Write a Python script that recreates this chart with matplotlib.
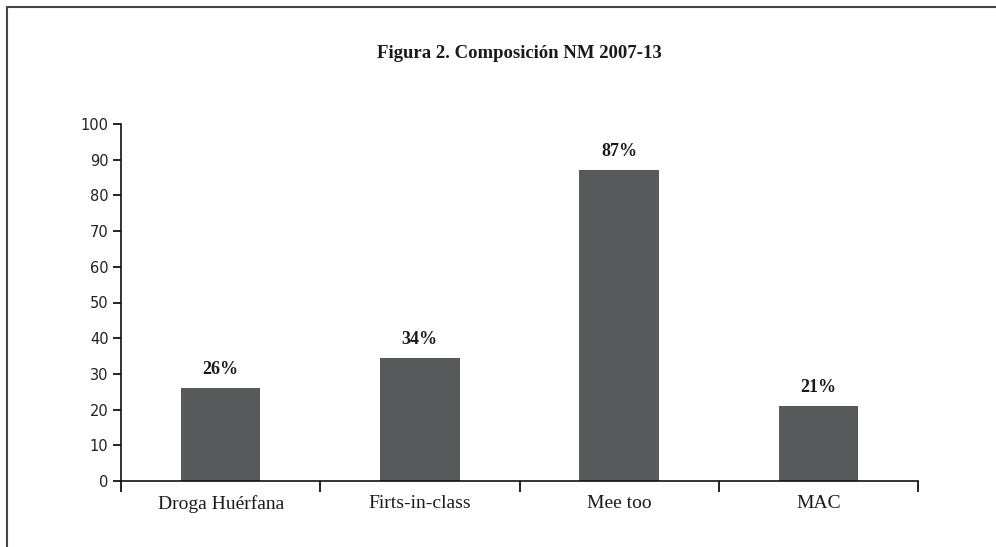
import matplotlib
matplotlib.use("Agg")
import matplotlib.pyplot as plt
from matplotlib.patches import Rectangle

categories = ["Droga Huérfana", "Firts-in-class", "Mee too", "MAC"]
values = [26, 34.5, 87, 21]
value_labels = ["26%", "34%", "87%", "21%"]
yticks = [0, 10, 20, 30, 40, 50, 60, 70, 80, 90, 100]
title = "Figura 2. Composición NM 2007-13"

serif = ["Liberation Serif", "DejaVu Serif"]

fig = plt.figure(figsize=(9.96, 5.47), dpi=100)
W, H = 996, 547
ax = fig.add_axes([121 / W, 1 - 481 / H, (918 - 121) / W, (481 - 124) / H])

xs = [i + 0.5 for i in range(len(categories))]
ax.bar(xs, values, width=0.4, color="#58595b", zorder=2)
for x, v, lab in zip(xs, values, value_labels):
    ax.annotate(lab, (x, v), xytext=(0, 10), textcoords="offset pixels",
                ha="center", va="bottom", fontsize=13, fontweight="bold",
                family=serif, color="#1a1a1a")

ax.set_xlim(0, len(categories))
ax.set_ylim(0, 100)
ax.set_yticks(yticks)
ax.set_yticklabels([str(t) for t in yticks], fontsize=10.5, family="DejaVu Sans", color="#222222")
ax.set_xticks(range(len(categories) + 1))
ax.set_xticklabels([])
ax.set_xticks(xs, minor=True)
ax.set_xticklabels(categories, minor=True, fontsize=14, family=serif, color="#1a1a1a")
ax.tick_params(axis="x", which="major", length=8, width=1.2, direction="out")
ax.tick_params(axis="x", which="minor", length=0, pad=10)
ax.tick_params(axis="y", length=6, width=1.2, direction="out", pad=3)

for s in ["top", "right"]:
    ax.spines[s].set_visible(False)
for s in ["left", "bottom"]:
    ax.spines[s].set_linewidth(1.2)
    ax.spines[s].set_color("#111111")

fig.text(519 / W, 1 - 53 / H, title, ha="center", va="center", fontsize=13.5,
         fontweight="bold", family=serif, color="#1a1a1a")

fig.patches.append(Rectangle((7 / W, -0.1), 1.2, 1.1 - 7 / H, transform=fig.transFigure,
                             fill=False, edgecolor="#444444", linewidth=1.5))

fig.savefig("out.png", dpi=100)
